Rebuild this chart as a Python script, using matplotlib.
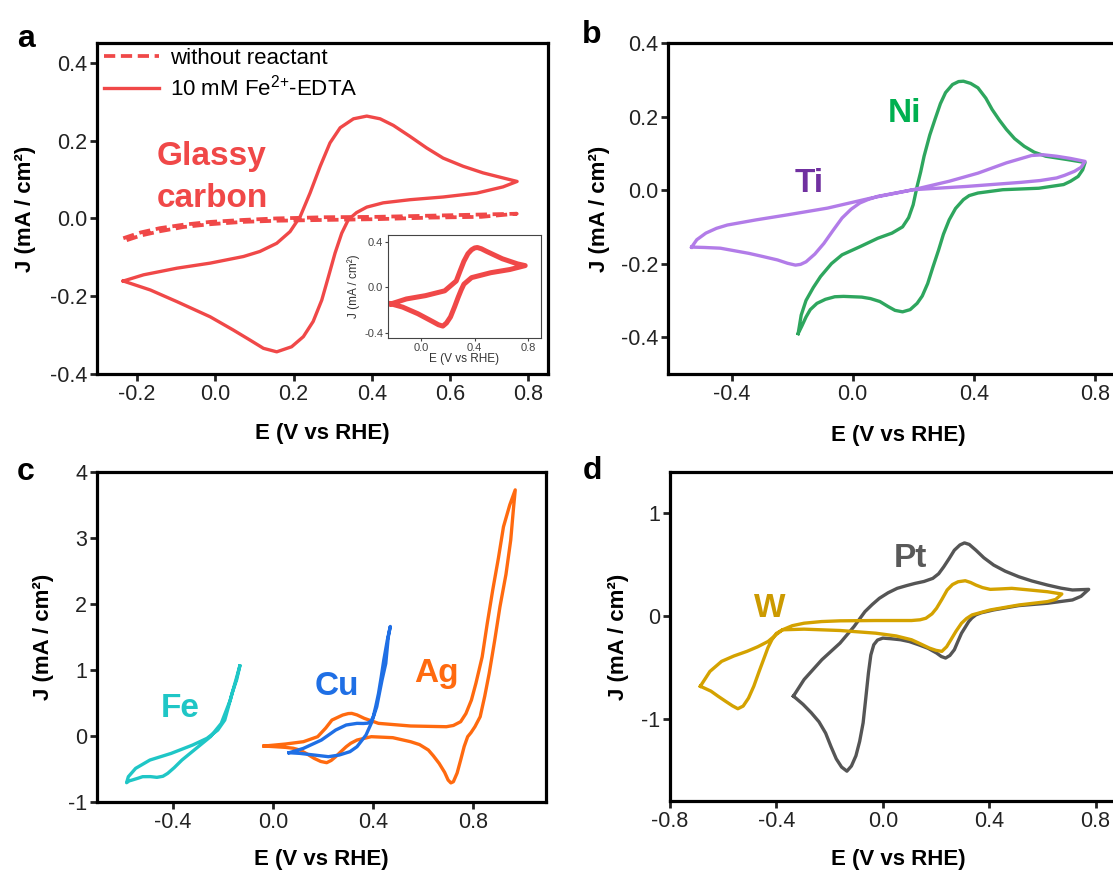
import matplotlib
matplotlib.use("Agg")
import matplotlib.pyplot as plt

plt.rcParams['font.family'] = ['Liberation Sans', 'DejaVu Sans']
plt.rcParams['mathtext.fontset'] = 'custom'
plt.rcParams['mathtext.rm'] = 'Liberation Sans'
plt.rcParams['mathtext.it'] = 'Liberation Sans:italic'
plt.rcParams['mathtext.bf'] = 'Liberation Sans:bold'
plt.rcParams['mathtext.default'] = 'regular'
plt.rcParams['lines.solid_joinstyle'] = 'round'
plt.rcParams['lines.dash_joinstyle'] = 'round'

# ---- data (E in V vs RHE, J in mA/cm2) ----
# panel a: glassy carbon, 10 mM Fe2+-EDTA
gc_e = [-0.235, -0.183, -0.098, -0.013, 0.072, 0.114, 0.157, 0.191, 0.217, 0.242, 0.268, 0.293, 0.319,
        0.353, 0.387, 0.421, 0.455, 0.497, 0.540, 0.582, 0.633, 0.684, 0.735, 0.771,
        0.735, 0.668, 0.582, 0.497, 0.429, 0.387, 0.361, 0.340, 0.323, 0.306, 0.289, 0.272, 0.250,
        0.225, 0.195, 0.157, 0.123, 0.089, 0.046, -0.013, -0.098, -0.166, -0.235]
gc_j = [-0.161, -0.145, -0.128, -0.115, -0.098, -0.085, -0.064, -0.034, 0.005, 0.065, 0.134, 0.194, 0.233,
        0.256, 0.263, 0.256, 0.239, 0.211, 0.181, 0.155, 0.134, 0.117, 0.104, 0.095,
        0.081, 0.065, 0.055, 0.048, 0.040, 0.029, 0.015, -0.003, -0.038, -0.089, -0.150, -0.210, -0.265,
        -0.304, -0.330, -0.343, -0.334, -0.313, -0.287, -0.253, -0.214, -0.184, -0.161]

# panel a: without reactant (dashed)
bg_e = [-0.235, -0.19, -0.141, -0.08, -0.013, 0.07, 0.157, 0.28, 0.412, 0.55, 0.68, 0.77,
        0.68, 0.55, 0.412, 0.28, 0.157, 0.07, -0.013, -0.08, -0.141, -0.19, -0.235]
bg_j = [-0.051, -0.036, -0.025, -0.016, -0.009, -0.004, 0.000, 0.003, 0.004, 0.007, 0.010, 0.012,
        0.004, 0.002, -0.002, -0.004, -0.006, -0.009, -0.015, -0.022, -0.033, -0.044, -0.059]

# panel a inset
ins_e = [-0.223, -0.109, 0.034, 0.177, 0.263, 0.29, 0.32, 0.35, 0.377, 0.40, 0.42, 0.45, 0.491, 0.606,
         0.72, 0.777,
         0.663, 0.52, 0.377, 0.32, 0.30, 0.277, 0.25, 0.22, 0.19, 0.163, 0.13, 0.091, -0.023, -0.137, -0.223]
ins_j = [-0.143, -0.1, -0.071, -0.029, 0.057, 0.14, 0.229, 0.295, 0.329, 0.345, 0.349, 0.338, 0.314, 0.251,
         0.206, 0.191,
         0.157, 0.129, 0.086, 0.029, -0.02, -0.086, -0.17, -0.257, -0.31, -0.337, -0.325, -0.3, -0.229, -0.171, -0.143]

# panel b
ni_e = [-0.18, -0.17, -0.154, -0.13, -0.106, -0.07, -0.035, 0.024, 0.083, 0.13, 0.165, 0.185, 0.2, 0.213,
        0.225, 0.236, 0.255, 0.272, 0.29, 0.307, 0.33, 0.35, 0.366, 0.39, 0.414, 0.44, 0.461, 0.485, 0.508,
        0.535, 0.567, 0.6, 0.638, 0.709, 0.768,
        0.76, 0.745, 0.72, 0.697, 0.615, 0.496, 0.414, 0.385, 0.366, 0.34, 0.319, 0.3, 0.284, 0.265, 0.248,
        0.23, 0.213, 0.19, 0.165, 0.14, 0.118, 0.09, 0.059, 0.03, 0.0, -0.03, -0.059, -0.09, -0.118, -0.14,
        -0.154, -0.168, -0.18]
ni_j = [-0.39, -0.34, -0.3, -0.265, -0.235, -0.2, -0.176, -0.154, -0.131, -0.117, -0.1, -0.075, -0.04, 0.01,
        0.05, 0.092, 0.15, 0.192, 0.235, 0.265, 0.287, 0.295, 0.296, 0.29, 0.278, 0.25, 0.219, 0.19, 0.165,
        0.14, 0.119, 0.103, 0.092, 0.083, 0.075,
        0.055, 0.037, 0.024, 0.015, 0.005, 0.001, -0.008, -0.015, -0.026, -0.05, -0.081, -0.12, -0.163, -0.21, -0.254,
        -0.288, -0.308, -0.325, -0.331, -0.327, -0.317, -0.303, -0.295, -0.291, -0.29, -0.289, -0.29, -0.297, -0.308,
        -0.325, -0.345, -0.37, -0.39]

ti_e = [-0.532, -0.515, -0.485, -0.45, -0.414, -0.319, -0.213, -0.083, 0.059, 0.2, 0.319, 0.414, 0.508,
        0.591, 0.63, 0.674, 0.72, 0.768,
        0.755, 0.733, 0.70, 0.674, 0.62, 0.556, 0.378, 0.2, 0.083, 0.05, 0.024, -0.005, -0.035, -0.065, -0.095,
        -0.125, -0.154, -0.172, -0.189, -0.215, -0.248, -0.3, -0.343, -0.437, -0.49, -0.532]
ti_j = [-0.155, -0.135, -0.117, -0.104, -0.095, -0.081, -0.067, -0.049, -0.022, 0.001, 0.024, 0.046, 0.074,
        0.094, 0.096, 0.092, 0.086, 0.078,
        0.062, 0.051, 0.04, 0.033, 0.026, 0.021, 0.01, 0.001, -0.017, -0.026, -0.035, -0.052, -0.076, -0.11, -0.145,
        -0.174, -0.195, -0.202, -0.204, -0.199, -0.19, -0.18, -0.172, -0.158, -0.156, -0.155]

# panel c
fe_e = [-0.133, -0.145, -0.164, -0.18, -0.193, -0.221, -0.264, -0.321, -0.407, -0.492, -0.549, -0.565,
        -0.578, -0.585,
        -0.575, -0.563, -0.54, -0.521, -0.49, -0.464, -0.44, -0.421, -0.395, -0.364, -0.307, -0.25, -0.207,
        -0.171, -0.133]
fe_j = [1.06, 0.86, 0.646, 0.42, 0.242, 0.09, -0.035, -0.136, -0.263, -0.364, -0.49, -0.56,
        -0.616, -0.707,
        -0.68, -0.667, -0.64, -0.616, -0.615, -0.626, -0.61, -0.566, -0.48, -0.364, -0.187, -0.01, 0.192,
        0.545, 1.06]

cu_e = [0.064, 0.121, 0.193, 0.25, 0.292, 0.335, 0.36, 0.378, 0.392, 0.4, 0.41, 0.421, 0.432, 0.442, 0.456,
        0.468,
        0.46, 0.45, 0.435, 0.414, 0.392, 0.371, 0.335, 0.307, 0.264, 0.221, 0.164, 0.107, 0.064]
cu_j = [-0.253, -0.187, -0.061, 0.091, 0.167, 0.192, 0.19, 0.195, 0.23, 0.293, 0.45, 0.646, 0.9, 1.15, 1.45,
        1.66,
        1.5, 1.1, 0.848, 0.444, 0.192, 0.015, -0.162, -0.237, -0.288, -0.313, -0.288, -0.263, -0.253]

ag_e = [-0.036, 0.05, 0.121, 0.178, 0.21, 0.235, 0.278, 0.3, 0.314, 0.335, 0.364, 0.421, 0.549, 0.692, 0.72,
        0.749, 0.77, 0.792, 0.81, 0.835, 0.855, 0.877, 0.9, 0.92, 0.945, 0.967,
        0.96, 0.949, 0.93, 0.906, 0.885, 0.863, 0.845, 0.827, 0.806, 0.79, 0.777, 0.763, 0.749, 0.735, 0.72,
        0.71, 0.699, 0.685, 0.663, 0.64, 0.62, 0.585, 0.549, 0.478, 0.392, 0.335, 0.31, 0.292, 0.27, 0.25,
        0.232, 0.214, 0.19, 0.164, 0.135, 0.107, 0.08, 0.05, 0.0, -0.036]
ag_j = [-0.152, -0.121, -0.086, -0.01, 0.12, 0.242, 0.318, 0.34, 0.343, 0.32, 0.268, 0.192, 0.152, 0.141, 0.16,
        0.217, 0.34, 0.545, 0.8, 1.2, 1.7, 2.21, 2.7, 3.17, 3.5, 3.73,
        3.45, 2.97, 2.45, 1.96, 1.45, 0.95, 0.6, 0.293, 0.141, 0.05, -0.01, -0.16, -0.364, -0.56, -0.692,
        -0.71, -0.667, -0.55, -0.414, -0.3, -0.212, -0.13, -0.086, -0.025, -0.01, -0.061, -0.11, -0.162, -0.24,
        -0.313, -0.37, -0.404, -0.385, -0.338, -0.27, -0.212, -0.185, -0.172, -0.16, -0.152]

# panel d
pt_e = [-0.336, -0.296, -0.229, -0.161, -0.108, -0.067, -0.04, -0.013, 0.02, 0.054, 0.09, 0.121, 0.155,
        0.188, 0.21, 0.229, 0.25, 0.269, 0.29, 0.307, 0.325, 0.35, 0.38, 0.417, 0.46, 0.511, 0.56, 0.619,
        0.67, 0.713, 0.774,
        0.745, 0.713, 0.619, 0.511, 0.417, 0.37, 0.35, 0.335, 0.323, 0.31, 0.296, 0.282, 0.269, 0.252, 0.236,
        0.22, 0.202, 0.17, 0.135, 0.1, 0.067, 0.03, 0.0, -0.02, -0.034, -0.045, -0.054, -0.064, -0.074,
        -0.087, -0.101, -0.118, -0.135, -0.155, -0.175, -0.195, -0.215, -0.24, -0.269, -0.30, -0.336]
pt_j = [-0.78, -0.619, -0.426, -0.265, -0.103, 0.042, 0.11, 0.171, 0.225, 0.268, 0.295, 0.316, 0.335,
        0.365, 0.41, 0.477, 0.56, 0.639, 0.69, 0.71, 0.695, 0.639, 0.565, 0.494, 0.435, 0.381, 0.34, 0.3,
        0.27, 0.252, 0.258,
        0.19, 0.155, 0.123, 0.1, 0.058, 0.03, 0.01, -0.02, -0.055, -0.11, -0.168, -0.25, -0.329, -0.385, -0.41,
        -0.395, -0.361, -0.315, -0.281, -0.25, -0.232, -0.222, -0.216, -0.235, -0.281, -0.38, -0.555, -0.8, -1.04,
        -1.22, -1.36, -1.46, -1.51, -1.47, -1.39, -1.27, -1.14, -1.03, -0.942, -0.86, -0.78]

w_e = [-0.686, -0.65, -0.606, -0.56, -0.511, -0.47, -0.431, -0.4, -0.377, -0.34, -0.296, -0.23, -0.161,
       -0.027, 0.108, 0.14, 0.162, 0.185, 0.202, 0.222, 0.242, 0.262, 0.283, 0.31, 0.33, 0.35, 0.375, 0.404,
       0.44, 0.485, 0.552, 0.619, 0.673,
       0.65, 0.619, 0.511, 0.404, 0.336, 0.315, 0.296, 0.275, 0.256, 0.24, 0.222, 0.2, 0.175, 0.14, 0.108,
       0.05, -0.027, -0.161, -0.296, -0.377, -0.4, -0.417, -0.432, -0.444, -0.465, -0.485, -0.505, -0.525,
       -0.545, -0.565, -0.592, -0.62, -0.646, -0.686]
w_j = [-0.684, -0.54, -0.442, -0.39, -0.345, -0.3, -0.248, -0.18, -0.135, -0.095, -0.071, -0.055, -0.048,
       -0.045, -0.045, -0.038, -0.023, 0.02, 0.074, 0.16, 0.252, 0.305, 0.332, 0.342, 0.325, 0.3, 0.275, 0.258,
       0.262, 0.268, 0.252, 0.235, 0.213,
       0.16, 0.139, 0.106, 0.058, 0.01, -0.025, -0.071, -0.15, -0.232, -0.3, -0.345, -0.335, -0.313, -0.27,
       -0.232, -0.195, -0.168, -0.142, -0.129, -0.135, -0.17, -0.232, -0.31, -0.394, -0.54, -0.684, -0.8,
       -0.877, -0.903, -0.875, -0.829, -0.78, -0.732, -0.684]

red = '#F04848'
LW = 2.4


def style(ax, xlim, ylim, xticks, yticks, xlabels, ylabels):
    ax.set_xlim(xlim)
    ax.set_ylim(ylim)
    ax.set_xticks(xticks)
    ax.set_xticklabels(xlabels)
    ax.set_yticks(yticks)
    ax.set_yticklabels(ylabels)
    for s in ax.spines.values():
        s.set_linewidth(2.3)
    ax.tick_params(direction='out', length=5, width=2, labelsize=15.5, pad=2, colors='#222222')
    ax.set_xlabel('E (V vs RHE)', fontsize=16, fontweight='bold')
    ax.set_ylabel('J (mA / cm²)', fontsize=16, fontweight='bold')


fig = plt.figure(figsize=(11.13, 8.73), dpi=100)

# ---------------- a ----------------
ax_a = fig.add_axes([0.0872, 0.5716, 0.4052, 0.3792])
ax_a.plot(bg_e, bg_j, color=red, lw=LW + 0.3, dashes=(3, 1.5), label='without reactant')
ax_a.plot(gc_e, gc_j, color=red, lw=LW, label='10 mM Fe$^{2{+}}$-EDTA')
style(ax_a, (-0.302, 0.85), (-0.4, 0.451),
      [-0.2, 0.0, 0.2, 0.4, 0.6, 0.8], [-0.4, -0.2, 0.0, 0.2, 0.4],
      ['-0.2', '0.0', '0.2', '0.4', '0.6', '0.8'], ['-0.4', '-0.2', '0.0', '0.2', '0.4'])
ax_a.xaxis.set_label_coords(0.5, -0.148)
ax_a.yaxis.set_label_coords(-0.135, 0.5)
ax_a.legend(loc='upper left', bbox_to_anchor=(0.015, 0.985), frameon=False, fontsize=16,
            handlelength=2.5, handletextpad=0.5, labelspacing=0.25, borderpad=0, borderaxespad=0)
ax_a.text(-0.149, 0.138, 'Glassy', color=red, fontsize=24, fontweight='bold', va='baseline')
ax_a.text(-0.149, 0.030, 'carbon', color=red, fontsize=24, fontweight='bold', va='baseline')

# inset
ax_in = fig.add_axes([0.3486, 0.6128, 0.1375, 0.118])
ax_in.plot(ins_e, ins_j, color=red, lw=3.6)
ax_in.set_xlim(-0.246, 0.895)
ax_in.set_ylim(-0.441, 0.458)
ax_in.set_xticks([0.0, 0.4, 0.8])
ax_in.set_xticklabels(['0.0', '0.4', '0.8'])
ax_in.set_yticks([-0.4, 0.0, 0.4])
ax_in.set_yticklabels(['-0.4', '0.0', '0.4'])
for s in ax_in.spines.values():
    s.set_linewidth(0.8)
    s.set_color('#444444')
ax_in.tick_params(direction='out', length=2.5, width=0.8, labelsize=8, pad=1, colors='#444444')
ax_in.set_xlabel('E (V vs RHE)', fontsize=8.5, color='#333333')
ax_in.set_ylabel('J (mA / cm²)', fontsize=8.5, color='#333333')
ax_in.xaxis.set_label_coords(0.5, -0.146)
ax_in.yaxis.set_label_coords(-0.183, 0.5)

# ---------------- b ----------------
ax_b = fig.add_axes([0.6002, 0.5716, 0.4106, 0.3792])
ax_b.plot(ni_e, ni_j, color='#2EA65E', lw=LW)
ax_b.plot(ti_e, ti_j, color='#B27CE8', lw=LW)
style(ax_b, (-0.61, 0.9), (-0.5, 0.4),
      [-0.4, 0.0, 0.4, 0.8], [-0.4, -0.2, 0.0, 0.2, 0.4],
      ['-0.4', '0.0', '0.4', '0.8'], ['-0.4', '-0.2', '0.0', '0.2', '0.4'])
ax_b.xaxis.set_label_coords(0.503, -0.155)
ax_b.yaxis.set_label_coords(-0.128, 0.5)
ax_b.text(0.117, 0.185, 'Ni', color='#00B050', fontsize=24, fontweight='bold', va='baseline')
ax_b.text(-0.191, -0.005, 'Ti', color='#7030A0', fontsize=24, fontweight='bold', va='baseline')

# ---------------- c ----------------
ax_c = fig.add_axes([0.0872, 0.0813, 0.4034, 0.378])
ax_c.plot(fe_e, fe_j, color='#1FC6C6', lw=LW)
ax_c.plot(ag_e, ag_j, color='#FF6A0F', lw=LW)
ax_c.plot(cu_e, cu_j, color='#1F6FE5', lw=LW)
style(ax_c, (-0.703, 1.09), (-1, 4),
      [-0.4, 0.0, 0.4, 0.8], [-1, 0, 1, 2, 3, 4],
      ['-0.4', '0.0', '0.4', '0.8'], ['-1', '0', '1', '2', '3', '4'])
ax_c.xaxis.set_label_coords(0.5, -0.142)
ax_c.yaxis.set_label_coords(-0.097, 0.5)
ax_c.text(-0.447, 0.29, 'Fe', color='#1FC6C6', fontsize=24, fontweight='bold', va='baseline')
ax_c.text(0.165, 0.62, 'Cu', color='#1F6FE5', fontsize=24, fontweight='bold', va='baseline')
ax_c.text(0.565, 0.82, 'Ag', color='#FF6A0F', fontsize=24, fontweight='bold', va='baseline')

# ---------------- d ----------------
ax_d = fig.add_axes([0.602, 0.0825, 0.4182, 0.3769])
ax_d.plot(pt_e, pt_j, color='#555555', lw=LW)
ax_d.plot(w_e, w_j, color='#D4A200', lw=LW)
style(ax_d, (-0.8, 0.95), (-1.8, 1.4),
      [-0.8, -0.4, 0.0, 0.4, 0.8], [-1, 0, 1],
      ['-0.8', '-0.4', '0.0', '0.4', '0.8'], ['-1', '0', '1'])
ax_d.xaxis.set_label_coords(0.49, -0.146)
ax_d.yaxis.set_label_coords(-0.088, 0.5)
ax_d.text(0.04, 0.476, 'Pt', color='#595959', fontsize=24, fontweight='bold', va='baseline')
ax_d.text(-0.484, -0.01, 'W', color='#CC9A00', fontsize=24, fontweight='bold', va='baseline')

# panel letters
for letter, x, y in [('a', 17, 47), ('b', 582, 43), ('c', 17, 480), ('d', 583, 479)]:
    fig.text(x / 1113, 1 - y / 873, letter, fontsize=23, fontweight='bold', va='baseline')

fig.savefig('out.png', dpi=100)
